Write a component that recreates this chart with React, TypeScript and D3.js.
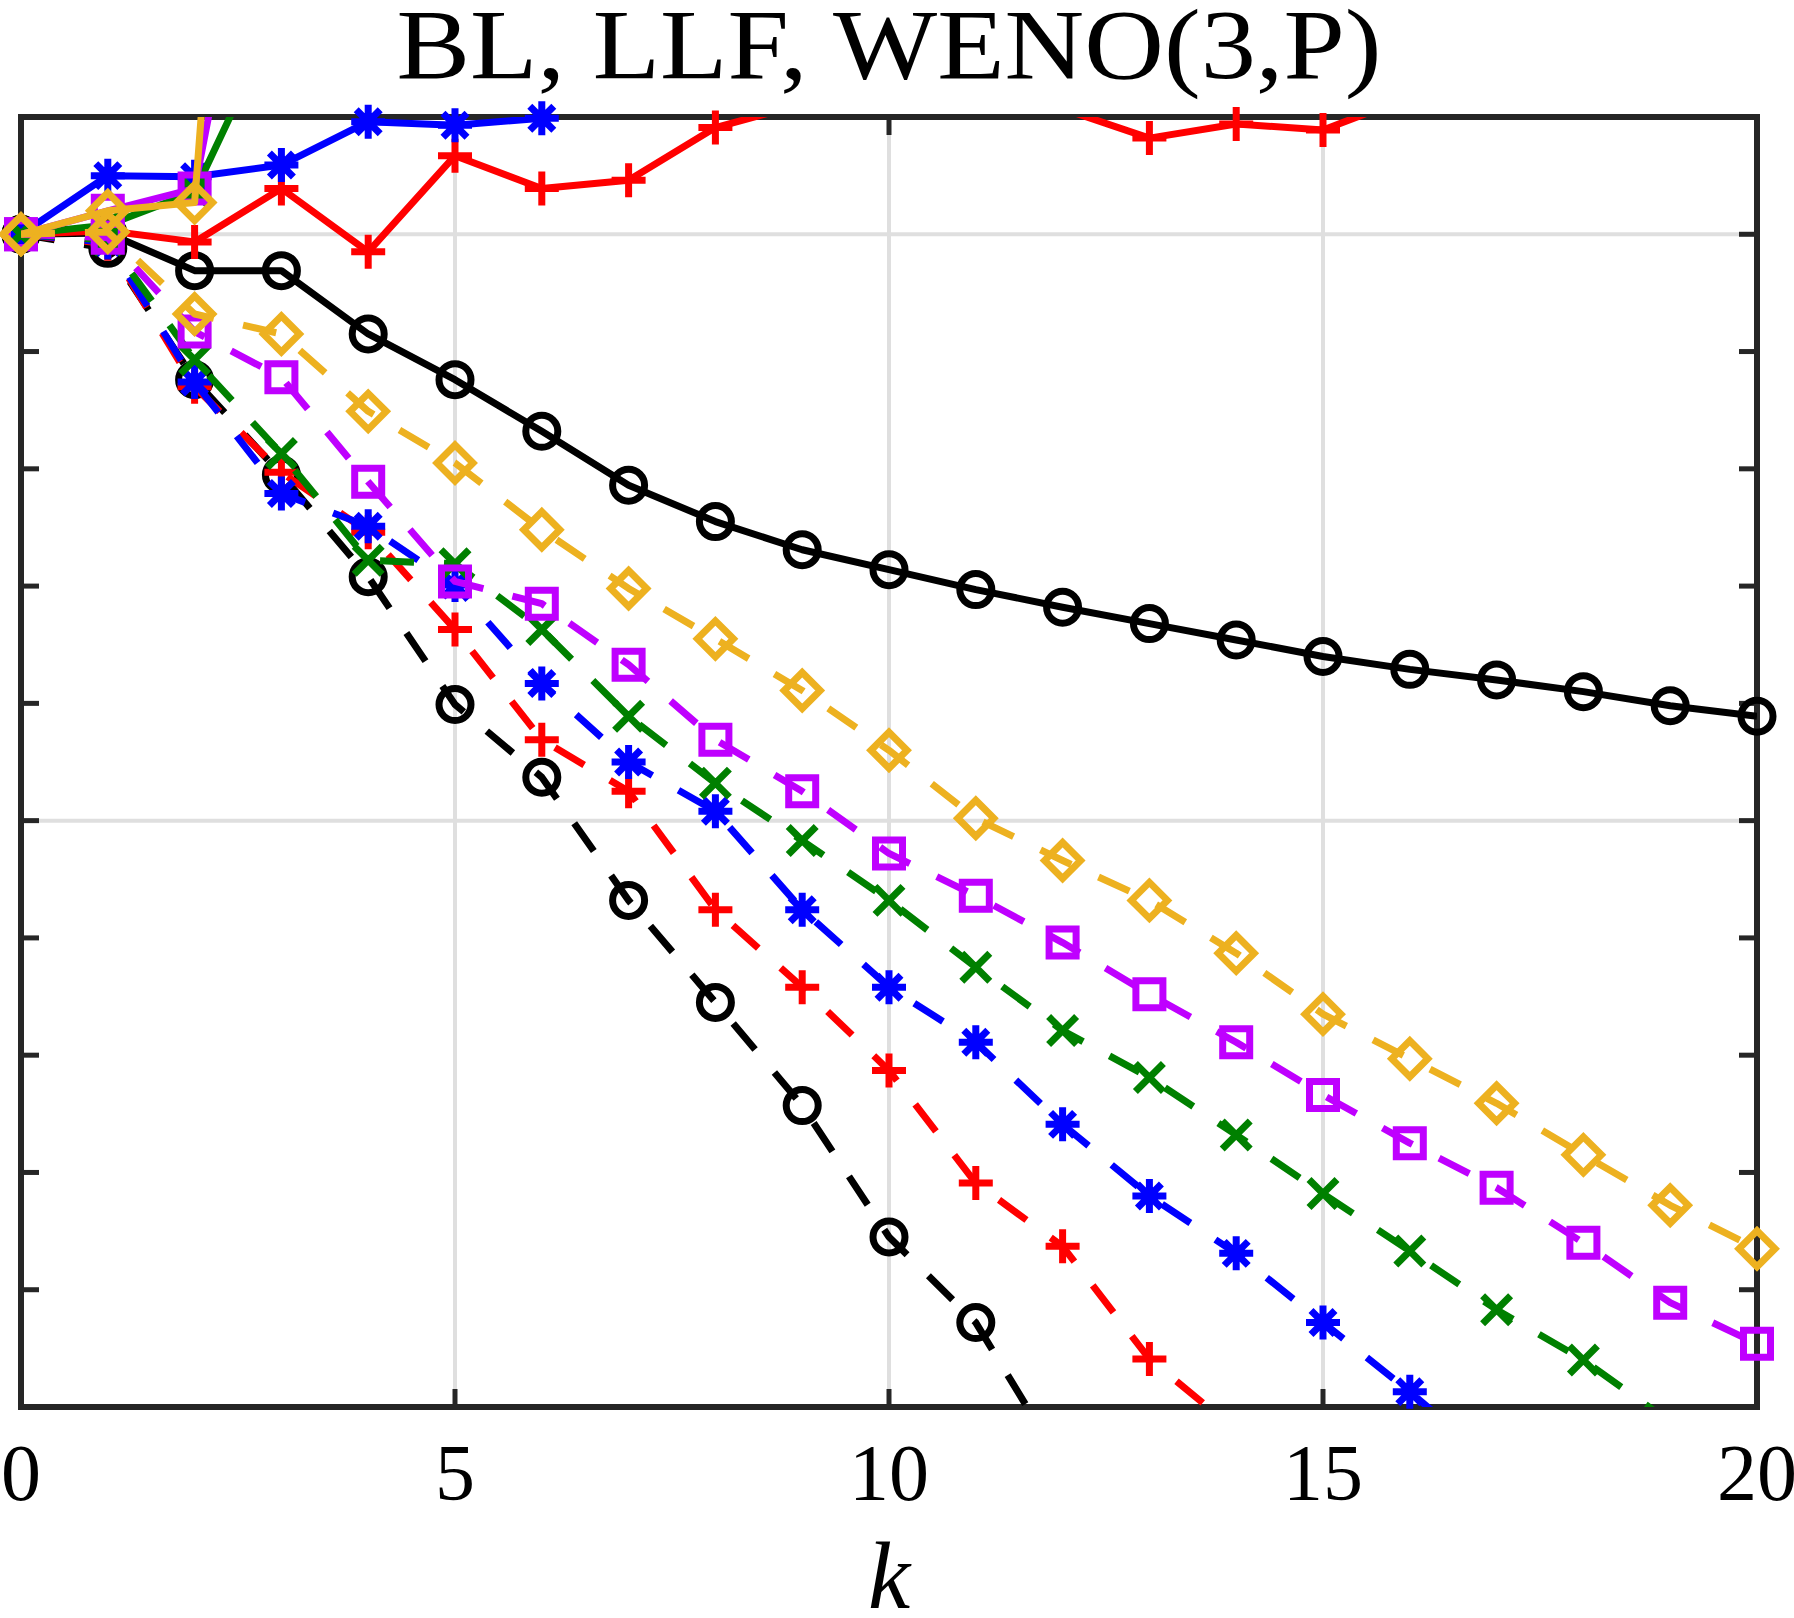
import React from 'react';
import * as d3 from 'd3';

// iteration index k
const kValues = [0, 1, 2, 3, 4, 5, 6, 7, 8, 9, 10, 11, 12, 13, 14, 15, 16, 17, 18, 19, 20];

// log10 of the residual (solid = diverging / stalled runs, dashed = converging runs)
const blackSolid = [0, 0.01, -0.31, -0.31, -0.85, -1.24, -1.68, -2.14, -2.45, -2.69, -2.86, -3.03, -3.18, -3.32, -3.46, -3.6, -3.71, -3.8, -3.9, -4.02, -4.11];
const blackDashed = [0, -0.12, -1.24, -2.05, -2.92, -4.01, -4.63, -5.68, -6.55, -7.43, -8.55, -9.28, -10.5];
const redSolid = [0, 0.03, -0.065, 0.39, -0.15, 0.67, 0.39, 0.46, 0.91, 1.11, 1.3, 1.25, 1.07, 0.82, 0.94, 0.89, 1.17, 1.3, 1.4, 1.5, 1.6];
const redDashed = [0, -0.08, -1.3, -2.03, -2.54, -3.37, -4.31, -4.75, -5.76, -6.42, -7.13, -8.09, -8.63, -9.59, -10.2];
const blueSolid = [0, 0.5, 0.49, 0.59, 0.96, 0.93, 0.99, 3.0];
const blueDashed = [0, -0.07, -1.26, -2.21, -2.49, -2.99, -3.83, -4.5, -4.92, -5.76, -6.42, -6.89, -7.59, -8.2, -8.69, -9.28, -9.87, -10.5];
const greenSolid = [0, 0.08, 0.36, 1.93];
const greenDashed = [0, -0.05, -1.07, -1.87, -2.78, -2.81, -3.37, -4.11, -4.68, -5.17, -5.68, -6.25, -6.79, -7.19, -7.68, -8.18, -8.67, -9.17, -9.6, -10.13];
const purpleSolid = [0, 0.2, 0.39, 4.2];
const purpleDashed = [0, -0.03, -0.83, -1.22, -2.11, -2.96, -3.15, -3.67, -4.31, -4.75, -5.28, -5.64, -6.04, -6.48, -6.89, -7.34, -7.75, -8.13, -8.6, -9.11, -9.46];
const orangeSolid = [0, 0.2, 0.27, 10];
const orangeDashed = [0, 0.02, -0.68, -0.85, -1.51, -1.95, -2.52, -3.02, -3.45, -3.89, -4.4, -4.98, -5.34, -5.68, -6.13, -6.65, -7.03, -7.41, -7.85, -8.28, -8.65];

const xTickValues = [0, 5, 10, 15, 20];
const xGridValues = [5, 10, 15];
const yTickValues = [-10, -9, -8, -7, -6, -5, -4, -3, -2, -1, 0, 1];
const yGridValues = [0, -5];

const titleText = 'BL, LLF, WENO(3,P)';
const xLabelText = 'k';

type Marker = 'circle' | 'plus' | 'star' | 'x' | 'square' | 'diamond';

const series: { color: string; marker: Marker; solid: number[]; dashed: number[] }[] = [
  { color: '#000000', marker: 'circle', solid: blackSolid, dashed: blackDashed },
  { color: '#ff0000', marker: 'plus', solid: redSolid, dashed: redDashed },
  { color: '#0000ff', marker: 'star', solid: blueSolid, dashed: blueDashed },
  { color: '#008000', marker: 'x', solid: greenSolid, dashed: greenDashed },
  { color: '#bf00ff', marker: 'square', solid: purpleSolid, dashed: purpleDashed },
  { color: '#edb120', marker: 'diamond', solid: orangeSolid, dashed: orangeDashed },
];

const markerPaths: Record<Exclude<Marker, 'circle'>, string> = {
  plus: 'M-17,0H17M0,-17V17',
  x: 'M-14,-14L14,14M-14,14L14,-14',
  star: 'M-17,0H17M0,-17V17M-12,-12L12,12M-12,12L12,-12',
  square: 'M-13.5,-13.5H13.5V13.5H-13.5Z',
  diamond: 'M0,-18L18,0L0,18L-18,0Z',
};

const W = 1794;
const H = 1618;
const plot = { left: 21, right: 1757, top: 117, bottom: 1407 };
const LW = 7;
const axisColor = '#262626';
const font = '"Liberation Serif", "DejaVu Serif", serif';

const App: React.FC = () => {
  const x = d3.scaleLinear().domain([0, 20]).range([plot.left, plot.right]);
  const y = d3.scaleLinear().domain([-10, 1]).range([plot.bottom, plot.top]);
  const line = d3.line<number>().x((_, i) => x(kValues[i])).y(d => y(d));

  const drawMarkers = (vals: number[], color: string, marker: Marker, key: string) =>
    vals.map((v, i) => {
      if (v > 1 || v < -10) return null;
      const cx = x(kValues[i]);
      const cy = y(v);
      if (marker === 'circle') {
        return <circle key={`${key}${i}`} cx={cx} cy={cy} r={16} fill="none" stroke={color} strokeWidth={LW} />;
      }
      return (
        <path key={`${key}${i}`} d={markerPaths[marker]} transform={`translate(${cx},${cy})`}
          fill="none" stroke={color} strokeWidth={LW} strokeLinejoin="miter" />
      );
    });

  return (
    <svg width={W} height={H} style={{ position: 'absolute', left: 0, top: 0, background: '#fff' }}>
      <defs>
        <clipPath id="plotClip">
          <rect x={plot.left} y={plot.top} width={plot.right - plot.left} height={plot.bottom - plot.top} />
        </clipPath>
      </defs>

      {/* grid */}
      {xGridValues.map(v => (
        <line key={`gx${v}`} x1={x(v)} x2={x(v)} y1={plot.top} y2={plot.bottom} stroke="#dfdfdf" strokeWidth={4} />
      ))}
      {yGridValues.map(v => (
        <line key={`gy${v}`} x1={plot.left} x2={plot.right} y1={y(v)} y2={y(v)} stroke="#dfdfdf" strokeWidth={4} />
      ))}

      {/* box and ticks */}
      <rect x={plot.left} y={plot.top} width={plot.right - plot.left} height={plot.bottom - plot.top}
        fill="none" stroke={axisColor} strokeWidth={6} />
      {xGridValues.map(v => (
        <g key={`tx${v}`} stroke={axisColor} strokeWidth={5}>
          <line x1={x(v)} x2={x(v)} y1={plot.bottom} y2={plot.bottom - 18} />
          <line x1={x(v)} x2={x(v)} y1={plot.top} y2={plot.top + 18} />
        </g>
      ))}
      {yTickValues.map(v => (
        <g key={`ty${v}`} stroke={axisColor} strokeWidth={5}>
          <line x1={plot.left} x2={plot.left + 18} y1={y(v)} y2={y(v)} />
          <line x1={plot.right} x2={plot.right - 18} y1={y(v)} y2={y(v)} />
        </g>
      ))}

      {/* data */}
      {series.map(s => (
        <g key={s.color}>
          <path d={line(s.solid) || ''} fill="none" stroke={s.color} strokeWidth={LW}
            strokeLinejoin="round" clipPath="url(#plotClip)" />
          {drawMarkers(s.solid, s.color, s.marker, `s${s.color}`)}
          <path d={line(s.dashed) || ''} fill="none" stroke={s.color} strokeWidth={LW}
            strokeDasharray="34 30" strokeLinejoin="round" clipPath="url(#plotClip)" />
          {drawMarkers(s.dashed, s.color, s.marker, `d${s.color}`)}
        </g>
      ))}

      {/* tick labels */}
      {xTickValues.map(v => (
        <text key={`lx${v}`} x={x(v)} y={1500} textAnchor="middle" fontFamily={font} fontSize={80} fill="#000">
          {v}
        </text>
      ))}

      {/* title and axis label */}
      <text x={(plot.left + plot.right) / 2} y={78} textAnchor="middle" fontFamily={font} fontSize={100}
        textLength={985} lengthAdjust="spacingAndGlyphs" fill="#000">
        {titleText}
      </text>
      <text x={(plot.left + plot.right) / 2} y={1608} textAnchor="middle" fontFamily={font} fontSize={95}
        fontStyle="italic" fill="#000">
        {xLabelText}
      </text>
    </svg>
  );
};

export default App;
